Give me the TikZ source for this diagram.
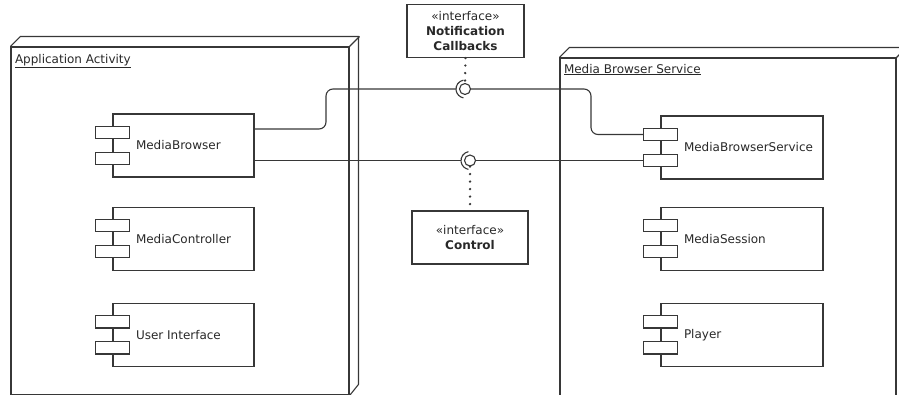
\documentclass[tikz,border=0pt]{standalone}
\usepackage{fontspec}
\setmainfont{DejaVu Sans}
\usepackage{tikz,xcolor}
\usetikzlibrary{positioning}
\definecolor{umlline}{RGB}{55,55,55}
\definecolor{umltext}{RGB}{40,40,40}

\begin{document}
\begin{tikzpicture}[
		x=1pt, y=-1pt,
		font=\fontsize{12pt}{15pt}\selectfont,
		line width=1.1pt, draw=umlline, text=umltext,
		pack/.style = {draw, minimum width=338pt, minimum height=348pt, inner sep=0pt},
		title/.style = {inner sep=0pt},
		comp/.style = {draw, minimum width=141pt, minimum height=63pt, inner sep=0pt},
		wide/.style = {comp, minimum width=162pt},
		lbl/.style = {inner sep=0pt},
		tab/.style = {draw, fill=white},
		iface/.style = {draw, align=center, minimum width=117pt, minimum height=53pt, inner sep=0pt},
		ball/.style = {circle, draw, fill=white, minimum size=11pt, inner sep=0pt},
		wire/.style = {rounded corners=7pt},
		realize/.style = {line width=2.6pt, line cap=round, dash pattern=on 0pt off 7.5pt}
		]
		\useasboundingbox (0,0) rectangle (899,394);
		\clip (0,0) rectangle (899,394);

		% the two execution environments
		\node (app) [pack] at (180,221) {};
		\draw (app.north west) -- ++(10,-10) -- ++(338,0) -- ++(0,348) -- (app.south east);
		\draw (app.north east) -- ++(10,-10);
		\node (apptitle) [title, below right=7pt and 4pt of app.north west] {\underline{Application Activity}};

		\node (srv) [pack, minimum width=336pt] at (728,232) {};
		\draw (srv.north west) -- ++(10,-10) -- ++(336,0) -- ++(0,348) -- (srv.south east);
		\draw (srv.north east) -- ++(10,-10);
		\node (srvtitle) [title, below right=6pt and 4pt of srv.north west] {\underline{Media Browser Service}};

		% components
		\node (mb) [comp] at (183.5,145.5) {};
		\node (mc) [comp, below=29pt of mb] {};
		\node (ui) [comp, below=32pt of mc] {};
		\node (mbs) [wide] at (742,147.5) {};
		\node (ms) [wide, below=27pt of mbs] {};
		\node (pl) [wide, below=32pt of ms] {};

		\node (mbt) [lbl, right=23pt of mb.west] {MediaBrowser};
		\node (mct) [lbl, right=23pt of mc.west] {MediaController};
		\node (uit) [lbl, right=23pt of ui.west] {User Interface};
		\node (mbst) [lbl, right=23pt of mbs.west] {MediaBrowserService};
		\node (mst) [lbl, right=23pt of ms.west] {MediaSession};
		\node (plt) [lbl, right=23pt of pl.west] {Player};

		\foreach \c in {mb,mc,ui,mbs,ms,pl}
			\foreach \d in {13,-13}
				\draw[tab] ([yshift=\d pt]\c.west) +(-17,-6.25) rectangle +(17,6.25);

		% interfaces
		\node (notif) [iface] at (465.5,31) {«interface»\\\textbf{Notification}\\\textbf{Callbacks}};
		\node (ctrl) [iface, minimum width=116pt] at (470,237.5) {«interface»\\\textbf{Control}};

		\node (ball1) [ball] at (465,89) {};
		\node (ball2) [ball] at (470,160.5) {};
		\draw ([shift={(100:9pt)}]ball1.center) arc[start angle=100, end angle=260, radius=9pt];
		\draw ([shift={(100:9pt)}]ball2.center) arc[start angle=100, end angle=260, radius=9pt];

		\draw[realize] (notif.south) -- (ball1.north);
		\draw[realize] (ball2.south) -- (ctrl.north);

		% connectors
		\draw[wire] ([yshift=16.5pt]mb.east) -- (326,129) -- (326,89) -- ([xshift=-9pt]ball1.center);
		\draw[wire] (ball1.east) -- (591,89) -- (591,134.5) -- ([xshift=-17pt,yshift=13pt]mbs.west);
		\draw (mb.east |- ball2) -- ([xshift=-9pt]ball2.center);
		\draw (ball2.east) -- ([xshift=-17pt,yshift=-13pt]mbs.west);
	\end{tikzpicture}
\end{document}
